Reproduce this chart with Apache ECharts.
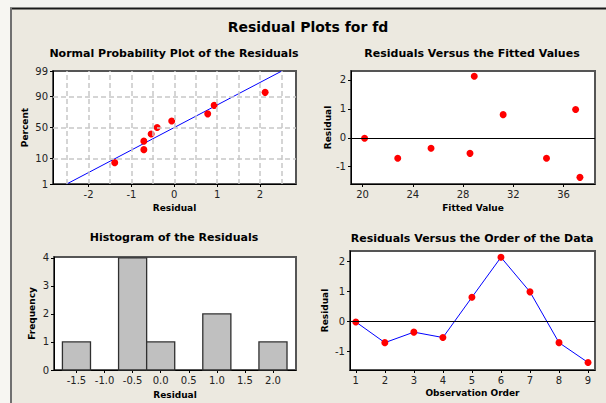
<!DOCTYPE html>
<html><head><meta charset="utf-8">
<script src="https://cdn.jsdelivr.net/npm/echarts@6/dist/echarts.min.js"></script>
<style>html,body{margin:0;padding:0;background:#ECE9E0;overflow:hidden}#c{width:606px;height:403px}</style>
</head><body><div id="c"></div>
<script>
// ---- Data ----
const npResidual = [-1.39, -0.71, -0.71, -0.54, -0.40, -0.06, 0.78, 0.93, 2.12];
const npPercent = [7.4, 18.1, 28.7, 39.4, 50.0, 60.6, 71.3, 81.9, 92.6];
const npFitResidual = [-2.51, 2.51];
const npFitPercent = [1, 99];
const npPercentTicks = [1, 10, 50, 90, 99];
const npPercentGrid = [10, 50, 90];
const npResidualTicks = [-2, -1, 0, 1, 2];
const npResidualGrid = [-2.5, -2, -1.5, -1, -0.5, 0, 0.5, 1, 1.5, 2, 2.5];

const fittedValues = [20.16, 22.80, 25.45, 28.55, 31.19, 28.89, 36.96, 34.64, 37.30];
const residuals = [-0.02, -0.71, -0.36, -0.54, 0.80, 2.13, 0.98, -0.71, -1.37];
const observationOrder = [1, 2, 3, 4, 5, 6, 7, 8, 9];
const fittedTicks = [20, 24, 28, 32, 36];
const residualTicks = [-1, 0, 1, 2];

const histBinCenters = [-1.5, -1.0, -0.5, 0.0, 0.5, 1.0, 1.5, 2.0];
const histCounts = [1, 0, 4, 1, 0, 2, 0, 1];
const histBinWidth = 0.5;
const histTicks = [-1.5, -1.0, -0.5, 0.0, 0.5, 1.0, 1.5, 2.0];
const freqTicks = [0, 1, 2, 3, 4];

// ---- normal probability scale (probit transform) ----
function probit(p) {
  const a=[-3.969683028665376e+01,2.209460984245205e+02,-2.759285104469687e+02,1.383577518672690e+02,-3.066479806614716e+01,2.506628277459239e+00];
  const b=[-5.447609879822406e+01,1.615858368580409e+02,-1.556989798598866e+02,6.680131188771972e+01,-1.328068155288572e+01];
  const c=[-7.784894002430293e-03,-3.223964580411365e-01,-2.400758277161838e+00,-2.549732539343734e+00,4.374664141464968e+00,2.938163982698783e+00];
  const d=[7.784695709041462e-03,3.224671290700398e-01,2.445134137142996e+00,3.754408661907416e+00];
  const pl=0.02425, ph=1-pl; let q, r;
  if (p < pl) { q=Math.sqrt(-2*Math.log(p)); return (((((c[0]*q+c[1])*q+c[2])*q+c[3])*q+c[4])*q+c[5])/((((d[0]*q+d[1])*q+d[2])*q+d[3])*q+1); }
  if (p <= ph) { q=p-0.5; r=q*q; return (((((a[0]*r+a[1])*r+a[2])*r+a[3])*r+a[4])*r+a[5])*q/(((((b[0]*r+b[1])*r+b[2])*r+b[3])*r+b[4])*r+1); }
  q=Math.sqrt(-2*Math.log(1-p)); return -(((((c[0]*q+c[1])*q+c[2])*q+c[3])*q+c[4])*q+c[5])/((((d[0]*q+d[1])*q+d[2])*q+d[3])*q+1);
}
const zp = pct => probit(pct / 100);

const FONT = 'DejaVu Sans';
const nameStyle = { fontFamily: FONT, fontSize: 9, fontWeight: 'bold', color: '#000' };
const dot = { color: '#ff0000', opacity: 1 };

function axis(o) {
  return {
    type: 'value', gridIndex: o.grid, min: o.min, max: o.max,
    name: o.name, nameLocation: 'middle', nameGap: o.nameGap, nameTextStyle: nameStyle,
    axisLine: { show: true, onZero: false, lineStyle: { color: '#000', width: 1 } },
    axisTick: { show: true, length: 3, customValues: o.ticks, lineStyle: { color: '#000' } },
    axisLabel: { show: true, customValues: o.ticks, margin: 5, fontFamily: FONT, fontSize: 10, color: '#222',
      formatter: o.fmt || (v => String(v)) },
    splitLine: { show: false }
  };
}

const gridBase = { show: true, backgroundColor: '#fff', borderColor: '#555', borderWidth: 2, containLabel: false };

function titleText(t, x, y, size) {
  return { type: 'text', x: x, y: y, z: 10, style: { text: t, fontFamily: FONT, fontSize: size, fontWeight: 'bold',
    fill: '#000', align: 'center', verticalAlign: 'middle', textAlign: 'center', textVerticalAlign: 'middle' } };
}

const chart = echarts.init(document.getElementById('c'), null, { renderer: 'svg' });
chart.setOption({
  animation: false,
  backgroundColor: '#ECE9E0',
  graphic: [
    { type: 'rect', shape: { x: 0, y: 0, width: 606, height: 8 }, style: { fill: '#F3F2EF' }, z: 0 },
    { type: 'rect', shape: { x: 0, y: 0, width: 10, height: 403 }, style: { fill: '#F7F6F2' }, z: 0 },
    { type: 'rect', shape: { x: 10, y: 7.5, width: 596, height: 2 }, style: { fill: '#1a1a1a' }, z: 1 },
    { type: 'rect', shape: { x: 10, y: 8, width: 2, height: 395 }, style: { fill: '#707070' }, z: 1 },
    titleText('Residual Plots for fd', 308, 26.5, 14),
    titleText('Normal Probability Plot of the Residuals', 174, 53, 11),
    titleText('Residuals Versus the Fitted Values', 472, 53, 11),
    titleText('Histogram of the Residuals', 174, 237.5, 11),
    titleText('Residuals Versus the Order of the Data', 472, 238, 11)
  ],
  grid: [
    Object.assign({ left: 53, top: 71, width: 243, height: 113 }, gridBase),
    Object.assign({ left: 351, top: 71, width: 244, height: 113 }, gridBase),
    Object.assign({ left: 54, top: 257, width: 242, height: 113 }, gridBase),
    Object.assign({ left: 350, top: 251, width: 245, height: 119 }, gridBase)
  ],
  xAxis: [
    axis({ grid: 0, min: -2.83, max: 2.84, ticks: npResidualTicks, name: 'Residual', nameGap: 19 }),
    axis({ grid: 1, min: 19.08, max: 38.5, ticks: fittedTicks, name: 'Fitted Value', nameGap: 19 }),
    axis({ grid: 2, min: -1.9, max: 2.41, ticks: histTicks, name: 'Residual', nameGap: 20, fmt: v => v.toFixed(1) }),
    axis({ grid: 3, min: 0.8, max: 9.24, ticks: observationOrder, name: 'Observation Order', nameGap: 18 })
  ],
  yAxis: [
    axis({ grid: 0, min: zp(1), max: zp(99), ticks: npPercentTicks.map(zp), name: 'Percent', nameGap: 24,
      fmt: v => { for (const p of npPercentTicks) { if (Math.abs(zp(p) - v) < 1e-3) return String(p); } return ''; } }),
    axis({ grid: 1, min: -1.6, max: 2.31, ticks: residualTicks, name: 'Residual', nameGap: 18 }),
    axis({ grid: 2, min: 0, max: 4.03, ticks: freqTicks, name: 'Frequency', nameGap: 18 }),
    axis({ grid: 3, min: -1.62, max: 2.34, ticks: residualTicks, name: 'Residual', nameGap: 21 })
  ],
  series: [
    { type: 'line', xAxisIndex: 0, yAxisIndex: 0, data: [], z: 1, silent: true,
      markLine: { silent: true, symbol: ['none', 'none'], label: { show: false },
        lineStyle: { color: '#c8c8c8', type: [5, 3], width: 1.5 },
        data: npResidualGrid.map(v => ({ xAxis: v })).concat(npPercentGrid.map(p => ({ yAxis: zp(p) }))) } },
    { type: 'line', xAxisIndex: 0, yAxisIndex: 0, z: 2, symbol: 'none',
      lineStyle: { color: '#0000ff', width: 1 },
      data: npFitResidual.map((x, i) => [x, zp(npFitPercent[i])]) },
    { type: 'scatter', xAxisIndex: 0, yAxisIndex: 0, z: 3, symbolSize: 7, itemStyle: dot,
      data: npResidual.map((x, i) => [x, zp(npPercent[i])]) },
    { type: 'scatter', xAxisIndex: 1, yAxisIndex: 1, z: 3, symbolSize: 7, itemStyle: dot,
      data: fittedValues.map((x, i) => [x, residuals[i]]),
      markLine: { silent: true, symbol: ['none', 'none'], label: { show: false },
        lineStyle: { color: '#000', type: 'solid', width: 1 }, data: [{ yAxis: 0 }] } },
    { type: 'custom', xAxisIndex: 2, yAxisIndex: 2, z: 2,
      data: histBinCenters.map((c, i) => [c, histCounts[i]]),
      renderItem: function (params, api) {
        const c = api.value(0), n = api.value(1);
        if (!n) return null;
        const p0 = api.coord([c - histBinWidth / 2, n]);
        const p1 = api.coord([c + histBinWidth / 2, 0]);
        return { type: 'rect', shape: { x: p0[0], y: p0[1], width: p1[0] - p0[0], height: p1[1] - p0[1] },
          style: { fill: '#C0C0C0', stroke: '#303030', lineWidth: 1.3 } };
      } },
    { type: 'line', xAxisIndex: 3, yAxisIndex: 3, z: 3, symbol: 'circle', symbolSize: 7,
      itemStyle: dot, lineStyle: { color: '#0000ff', width: 1 },
      data: observationOrder.map((x, i) => [x, residuals[i]]),
      markLine: { silent: true, symbol: ['none', 'none'], label: { show: false },
        lineStyle: { color: '#000', type: 'solid', width: 1 }, data: [{ yAxis: 0 }] } }
  ]
});
</script></body></html>
